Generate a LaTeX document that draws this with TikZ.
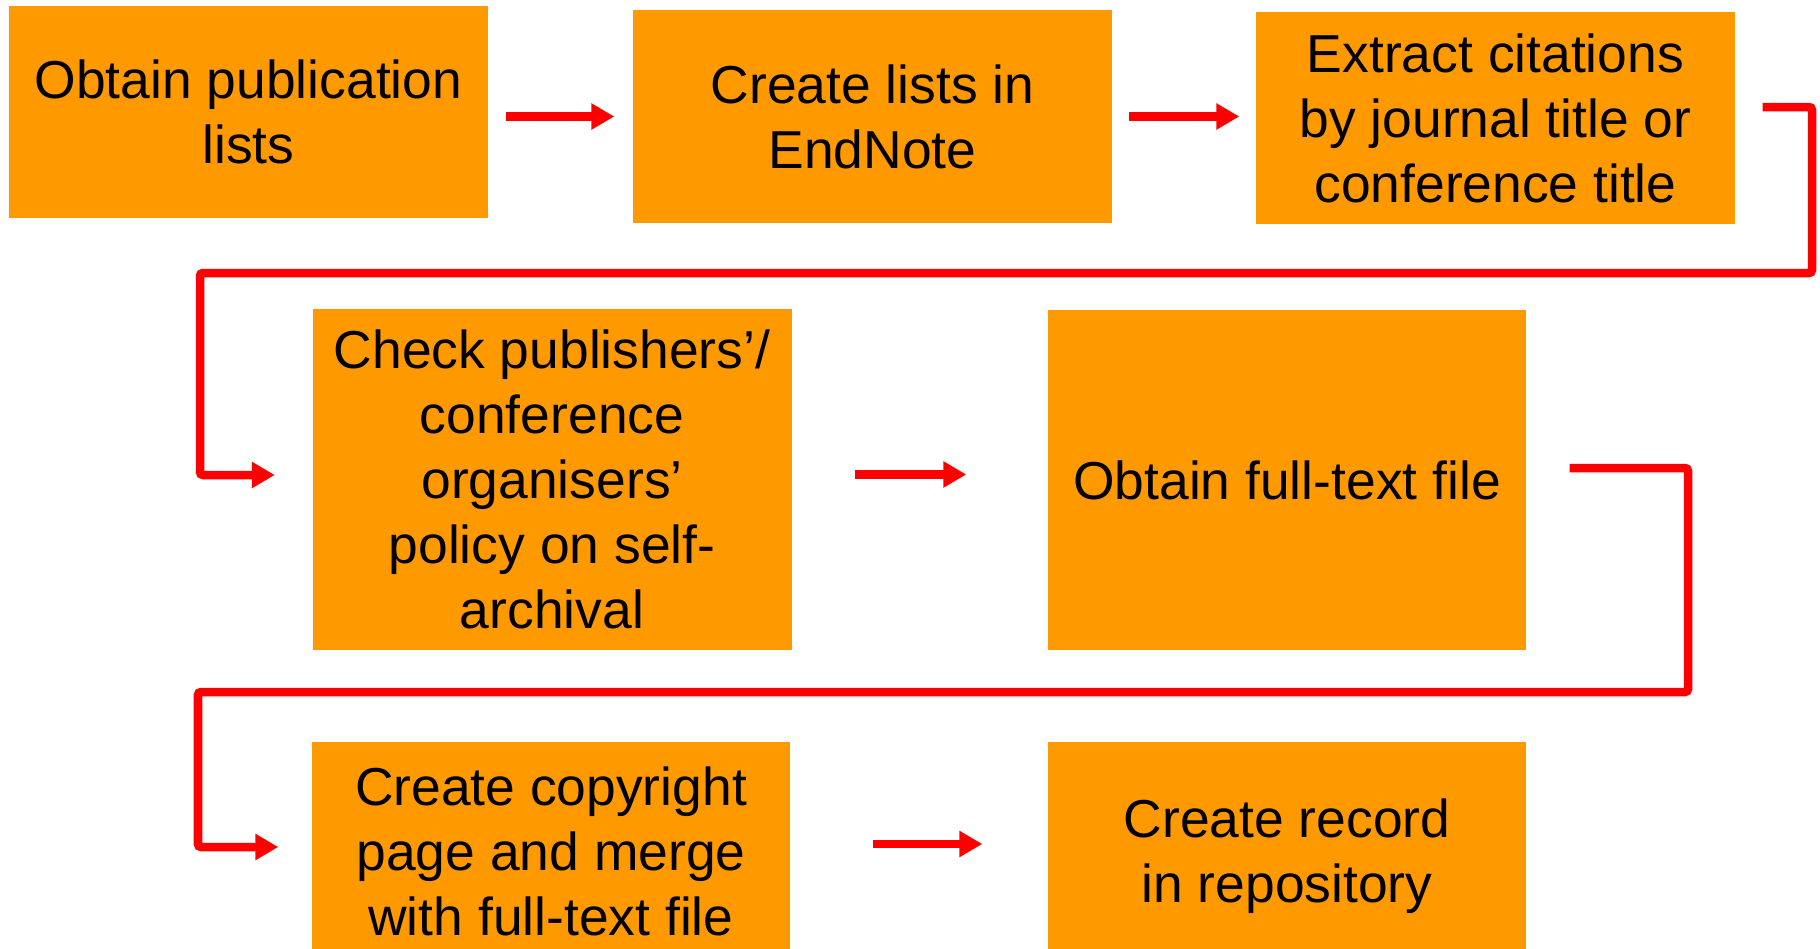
\documentclass[tikz,border=0pt]{standalone}
\usepackage{fontspec}
\setmainfont{Liberation Sans}
\usepackage{tikz}
\usetikzlibrary{arrows.meta}
\definecolor{boxorange}{HTML}{FF9900}
\definecolor{flowred}{HTML}{FF0000}

\begin{document}
\begin{tikzpicture}[
    proc/.style={fill=boxorange, inner sep=0pt, minimum width=4.79cm, align=center,
                 font=\fontsize{15.2}{18.5}\selectfont},
    flow/.style={draw=flowred, line width=.085cm, rounded corners=.03cm,
                 -{Triangle[length=.23cm,width=.25cm]}}]

    \useasboundingbox (0,0) rectangle (18.2,-9.49);
    \clip (0,0) rectangle (18.2,-9.49);

    \node[proc, minimum height=2.12cm] (b1) at (2.485,-1.12) {Obtain publication\\lists};
    \node[proc, minimum height=2.13cm] (b2) at (8.725,-1.165) {Create lists in\\EndNote};
    \node[proc, minimum height=2.12cm] (b3) at (14.955,-1.18) {Extract citations\\by journal title or\\conference title};
    \node[proc, minimum height=3.41cm] (b4) at (5.52,-4.795) {Check publishers’/\\conference\\organisers’\\policy on self-\\archival};
    \node[proc, minimum height=3.40cm, minimum width=4.78cm] (b5) at (12.87,-4.80) {Obtain full-text file};
    \node[proc, minimum height=2.18cm, minimum width=4.78cm] (b6) at (5.51,-8.51) {Create copyright\\page and merge\\with full-text file};
    \node[proc, minimum height=2.28cm, minimum width=4.78cm] (b7) at (12.87,-8.56) {Create record\\in repository};

    \coordinate (t1) at (18.12,-2.73);
    \coordinate (t2) at (2.00,-2.73);
    \coordinate (t3) at (16.88,-6.92);
    \coordinate (t4) at (1.98,-6.92);

    \draw[flow, shorten <=.17cm, shorten >=.18cm] (b1.east |- b2.west) -- (b2.west);
    \draw[flow, shorten <=.16cm, shorten >=.16cm] (b2.east) -- (b2.east -| b3.west);
    \draw[flow] ([xshift=.27cm,yshift=.11cm]b3.east) -| (t1) -- (t2) |- ([xshift=-.37cm,yshift=.045cm]b4.west);
    \draw[flow, shorten <=.63cm, shorten >=.81cm] ([yshift=.05cm]b4.east) -- ([yshift=.05cm]b4.east -| b5.west);
    \draw[flow] ([xshift=.43cm,yshift=.12cm]b5.east) -| (t3) -- (t4) |- ([xshift=-.33cm,yshift=.04cm]b6.west);
    \draw[flow, shorten <=.82cm, shorten >=.65cm] ([yshift=.07cm]b6.east) -- ([yshift=.07cm]b6.east -| b7.west);

\end{tikzpicture}
\end{document}
